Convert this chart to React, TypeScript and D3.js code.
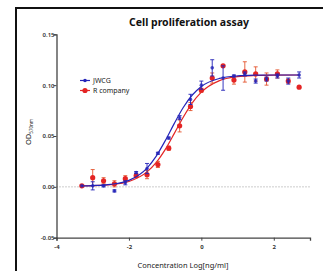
import React, { useEffect, useRef } from "react";
import * as d3 from "d3";

// log concentrations (ng/ml)
const doses = [-3.3, -3.0, -2.7, -2.4, -2.1, -1.8, -1.5, -1.2, -0.9, -0.6, -0.3, 0, 0.3, 0.6, 0.9, 1.2, 1.5, 1.8, 2.1, 2.4, 2.7];

const jwcgMean = [0.001, 0.001, 0.001, -0.004, 0.004, 0.014, 0.018, 0.033, 0.048, 0.068, 0.086, 0.1, 0.117, 0.107, 0.109, 0.111, 0.104, 0.106, 0.109, 0.104, 0.11];
const jwcgErr = [0, 0.004, 0.001, 0.001, 0.002, 0.001, 0.005, 0.001, 0.001, 0.002, 0.005, 0.004, 0.008, 0.012, 0.001, 0.002, 0.002, 0.002, 0.002, 0.003, 0.003];

const rMean = [0.001, 0.009, 0.006, 0.003, 0.008, 0.011, 0.012, 0.022, 0.038, 0.06, 0.079, 0.095, 0.107, 0.119, 0.105, 0.113, 0.111, 0.106, 0.111, 0.104, 0.098];
const rErr = [0, 0.008, 0.003, 0.003, 0.003, 0.002, 0.004, 0.003, 0.002, 0.006, 0.004, 0.002, 0.005, 0.001, 0.004, 0.01, 0.007, 0.006, 0.004, 0.002, 0];

// fitted curves
const jwcgFit: [number, number][] = [[-3.3, 0.001], [-3, 0.0013], [-2.5, 0.0025], [-2, 0.0064], [-1.5, 0.0185], [-1.25, 0.03], [-1, 0.0452], [-0.75, 0.0622], [-0.5, 0.078], [-0.25, 0.0903], [0, 0.0987], [0.5, 0.1066], [1, 0.1091], [1.5, 0.1098], [2, 0.11], [2.7, 0.11]];
const rFit: [number, number][] = [[-3.3, 0.001], [-3, 0.0012], [-2.5, 0.0022], [-2, 0.0053], [-1.5, 0.0147], [-1.25, 0.0238], [-1, 0.0366], [-0.75, 0.0523], [-0.5, 0.0685], [-0.25, 0.0826], [0, 0.0931], [0.5, 0.1044], [1, 0.1083], [1.5, 0.1095], [2, 0.1099], [2.7, 0.11]];

const xTicks = [-4, -2, 0, 2];
const yTicks = [-0.05, 0, 0.05, 0.1, 0.15];

const BLUE = "#2323b8";
const RED = "#e42424";

export default function App() {
  const ref = useRef<SVGSVGElement>(null);

  useEffect(() => {
    const svg = d3.select(ref.current);
    svg.selectAll("*").remove();
    const font = "'Noto Sans', 'Liberation Sans', sans-serif";

    const x = d3.scaleLinear().domain([-4, 3]).range([56.5, 310]);
    const y = d3.scaleLinear().domain([-0.05, 0.15]).range([237.7, 34.3]);

    // frame
    svg.append("rect")
      .attr("x", 16).attr("y", 8)
      .attr("width", 340).attr("height", 300)
      .attr("fill", "white")
      .attr("stroke", "#111")
      .attr("stroke-width", 2);

    svg.append("text")
      .attr("x", 189).attr("y", 26)
      .attr("text-anchor", "middle")
      .style("font-family", font)
      .style("font-weight", "bold")
      .style("font-size", "10.5px")
      .attr("fill", "#111")
      .text("Cell proliferation assay");

    // zero line
    svg.append("line")
      .attr("x1", x(-4)).attr("x2", x(3))
      .attr("y1", y(0)).attr("y2", y(0))
      .attr("stroke", "#999")
      .attr("stroke-dasharray", "1,2");

    const xAxis = svg.append("g")
      .attr("transform", `translate(0,${y(-0.05)})`)
      .call(d3.axisBottom(x).tickValues(xTicks).tickSize(3).tickFormat(d3.format("d")));
    const yAxis = svg.append("g")
      .attr("transform", `translate(${x(-4)},0)`)
      .call(d3.axisLeft(y).tickValues(yTicks).tickSize(3).tickFormat(d3.format(".2f")));
    [xAxis, yAxis].forEach((g) => {
      g.select(".domain").attr("stroke", "#444").attr("stroke-width", 1.3);
      g.selectAll(".tick line").attr("stroke", "#444");
      g.selectAll(".tick text")
        .style("font-family", font)
        .style("font-size", "6px")
        .style("font-weight", "600")
        .attr("fill", "#333");
    });
    xAxis.selectAll(".tick text").style("font-weight", "bold").attr("dy", "0.9em");
    yAxis.selectAll(".tick text").attr("x", -2);
    xAxis.selectAll(".tick text").text((d: any) => (d < 0 ? "-" + Math.abs(d) : String(d)));
    yAxis.selectAll(".tick text").text((d: any) => (d < 0 ? "-" + d3.format(".2f")(Math.abs(d)) : d3.format(".2f")(d)));

    // axis titles
    svg.append("text")
      .attr("x", 183).attr("y", 268)
      .attr("text-anchor", "middle")
      .style("font-family", font)
      .style("font-size", "7.5px")
      .attr("fill", "#222")
      .text("Concentration Log[ng/ml]");

    const yl = svg.append("text")
      .attr("transform", "translate(31,132) rotate(-90)")
      .attr("text-anchor", "middle")
      .style("font-family", font)
      .style("font-size", "7.5px")
      .attr("fill", "#222");
    yl.append("tspan").text("OD");
    yl.append("tspan").attr("dy", 1.5).style("font-size", "4.5px").text("570nm");

    const line = d3.line<[number, number]>()
      .x((d) => x(d[0]))
      .y((d) => y(d[1]))
      .curve(d3.curveMonotoneX);

    const series = [
      { mean: rMean, err: rErr, fit: rFit, color: RED, bar: "#e4552e", r: 2.6, op: 1 },
      { mean: jwcgMean, err: jwcgErr, fit: jwcgFit, color: BLUE, bar: BLUE, r: 1.8, op: 0.8 },
    ];

    series.forEach((s) => {
      svg.append("path")
        .attr("d", line(s.fit))
        .attr("fill", "none")
        .attr("stroke", s.color)
        .attr("stroke-width", 1.2);

      const g = svg.append("g");
      doses.forEach((d, i) => {
        const cx = x(d);
        const m = s.mean[i];
        const e = s.err[i];
        if (e > 0) {
          g.append("line").attr("x1", cx).attr("x2", cx)
            .attr("y1", y(m - e)).attr("y2", y(m + e))
            .attr("stroke", s.bar).attr("stroke-width", 0.9);
          [m - e, m + e].forEach((v) => {
            g.append("line").attr("x1", cx - 2).attr("x2", cx + 2)
              .attr("y1", y(v)).attr("y2", y(v))
              .attr("stroke", s.bar).attr("stroke-width", 0.9);
          });
        }
        g.append("circle")
          .attr("cx", cx).attr("cy", y(m))
          .attr("r", s.r)
          .attr("fill", s.color)
          .attr("fill-opacity", s.op);
      });
    });

    // legend
    const legend = [
      { name: "JWCG", color: BLUE, r: 1.8 },
      { name: "R company", color: RED, r: 2.6 },
    ];
    legend.forEach((l, i) => {
      const ly = 80.5 + i * 10;
      svg.append("line")
        .attr("x1", 80).attr("x2", 90)
        .attr("y1", ly).attr("y2", ly)
        .attr("stroke", l.color).attr("stroke-width", 1.2);
      svg.append("circle").attr("cx", 85).attr("cy", ly).attr("r", l.r).attr("fill", l.color);
      svg.append("text")
        .attr("x", 93).attr("y", ly)
        .attr("dy", "0.35em")
        .style("font-family", font)
        .style("font-size", "7px")
        .attr("fill", "#222")
        .text(l.name);
    });
  }, []);

  return (
    <svg
      ref={ref}
      width={323}
      height={271}
      style={{ position: "absolute", left: 0, top: 0, background: "white" }}
    />
  );
}
